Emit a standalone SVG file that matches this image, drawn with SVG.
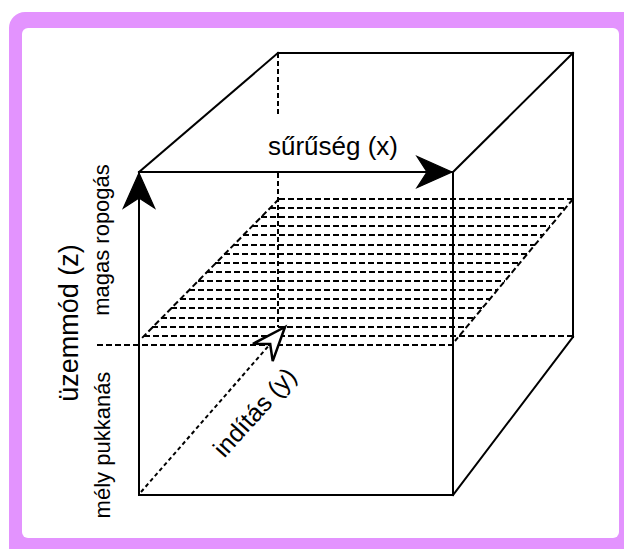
<svg xmlns="http://www.w3.org/2000/svg" width="624" height="549" viewBox="0 0 624 549">
  <style>
    .edge { stroke: #000; stroke-width: 2; fill: none; stroke-linecap: square; }
    .dash { stroke: #000; stroke-width: 2; fill: none; stroke-dasharray: 6 3; }
    .dashv { stroke: #000; stroke-width: 2; fill: none; stroke-dasharray: 5 3; }
    .dot { stroke: #000; stroke-width: 2; fill: none; stroke-dasharray: 4 3; }
    .lbl { font-family: "Liberation Sans", Arial, sans-serif; fill: #000; }
  </style>
  <defs>
    <marker id="arrowFilled" markerUnits="userSpaceOnUse" markerWidth="40" markerHeight="40" viewBox="-30 -15 32 30" refX="0" refY="0" orient="auto" overflow="visible">
      <path d="M0,0 L-28,-12.5 L-20,0 L-28,12.5 Z" fill="#000" stroke="#000" stroke-width="1" stroke-linejoin="miter"/>
    </marker>
    <marker id="arrowOpen" markerUnits="userSpaceOnUse" markerWidth="40" markerHeight="40" viewBox="-30 -15 32 30" refX="0" refY="0" orient="auto" overflow="visible">
      <path d="M0,0 L-27,-10.5 L-18,0 L-27,10.5 Z" fill="#fff" stroke="#000" stroke-width="2" stroke-linejoin="miter"/>
    </marker>
  </defs>

  <g id="frame">
    <rect x="9" y="12" width="640" height="560" rx="16" ry="16" fill="#E393FE"/>
    <rect x="22" y="28" width="597" height="510" rx="6" ry="6" fill="#fff"/>
  </g>

  <g id="plane">
    <line class="dash" x1="279" y1="199" x2="141" y2="339"/>
    <line class="dash" x1="573" y1="199" x2="455" y2="341"/>
    <line class="dash" x1="279" y1="199" x2="573" y2="199"/>
    <line class="dash" x1="270" y1="208" x2="565" y2="208"/>
    <line class="dash" x1="261" y1="217" x2="558" y2="217"/>
    <line class="dash" x1="252" y1="226" x2="550" y2="226"/>
    <line class="dash" x1="243" y1="235" x2="543" y2="235"/>
    <line class="dash" x1="233" y1="245" x2="535" y2="245"/>
    <line class="dash" x1="224" y1="254" x2="527" y2="254"/>
    <line class="dash" x1="215" y1="263" x2="520" y2="263"/>
    <line class="dash" x1="207" y1="272" x2="512" y2="272"/>
    <line class="dash" x1="198" y1="281" x2="505" y2="281"/>
    <line class="dash" x1="189" y1="290" x2="497" y2="290"/>
    <line class="dash" x1="180" y1="299" x2="490" y2="299"/>
    <line class="dash" x1="171" y1="308" x2="482" y2="308"/>
    <line class="dash" x1="161" y1="318" x2="474" y2="318"/>
    <line class="dash" x1="152" y1="327" x2="466" y2="327"/>
    <line class="dash" x1="144" y1="336" x2="573" y2="336"/>
    <line class="dash" x1="97" y1="345" x2="453" y2="345"/>
  </g>

  <g id="cube">
    <line class="dashv" x1="278" y1="53" x2="278" y2="117"/>
    <line class="dashv" x1="278" y1="173" x2="278" y2="327"/>
    <line class="edge" x1="278" y1="53" x2="573" y2="53"/>
    <line class="edge" x1="573" y1="53" x2="573" y2="337"/>
    <line class="edge" x1="139" y1="172" x2="278" y2="53"/>
    <line class="edge" x1="453" y1="172" x2="573" y2="53"/>
    <line class="edge" x1="453" y1="495" x2="573" y2="337"/>
    <line class="edge" x1="453" y1="172" x2="453" y2="495"/>
    <line class="edge" x1="139" y1="495" x2="453" y2="495"/>
  </g>

  <g id="connectors">
    <line id="axis-x" class="edge" x1="139" y1="172" x2="452" y2="172" marker-end="url(#arrowFilled)"/>
    <line id="axis-z" class="edge" x1="139" y1="495" x2="139" y2="173" marker-end="url(#arrowFilled)"/>
    <line id="axis-y" class="dot" x1="141" y1="492" x2="285" y2="327" marker-end="url(#arrowOpen)"/>
  </g>

  <g id="labels">
    <text id="label-x" class="lbl" x="333" y="155" font-size="26" text-anchor="middle">sűrűség (x)</text>
    <text id="label-z" class="lbl" font-size="27" text-anchor="middle" transform="translate(78,323) rotate(-90)">üzemmód (z)</text>
    <text id="label-high" class="lbl" font-size="22" text-anchor="middle" transform="translate(109,240) rotate(-90)">magas ropogás</text>
    <text id="label-low" class="lbl" font-size="22" text-anchor="middle" transform="translate(110,445) rotate(-90)">mély pukkanás</text>
    <text id="label-y" class="lbl" font-size="25" text-anchor="middle" transform="translate(261,418) rotate(-48)">indítás (y)</text>
  </g>
</svg>
